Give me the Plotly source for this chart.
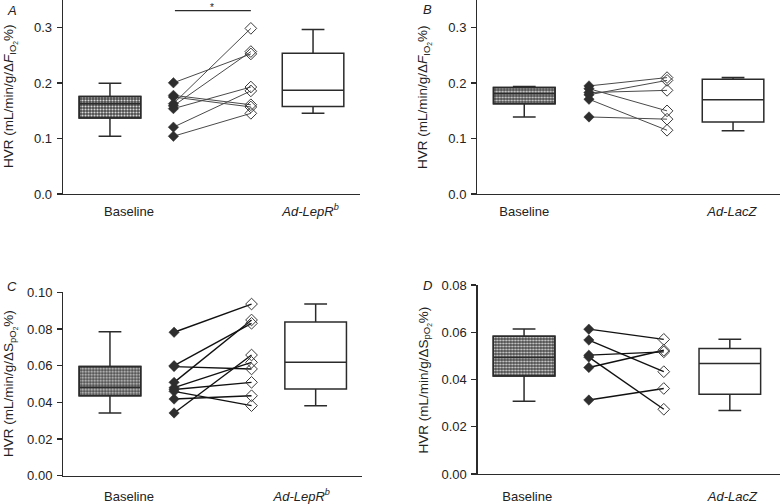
import plotly.graph_objects as go

# ---------------- data ----------------
# box stats: [lower whisker, q1, median, q3, upper whisker]
A_base = [0.2006, 0.178, 0.175, 0.163, 0.159, 0.154, 0.1206, 0.1042]
A_treat = [0.2527, 0.161, 0.157, 0.2988, 0.257, 0.193, 0.186, 0.1455]
A_box_base = [0.104, 0.137, 0.163, 0.176, 0.200]
A_box_treat = [0.1455, 0.158, 0.187, 0.254, 0.297]

B_base = [0.195, 0.190, 0.183, 0.179, 0.171, 0.139]
B_treat = [0.210, 0.150, 0.187, 0.205, 0.115, 0.135]
B_box_base = [0.139, 0.163, 0.181, 0.192, 0.194]
B_box_treat = [0.114, 0.130, 0.170, 0.207, 0.210]

C_base = [0.0782, 0.0600, 0.0595, 0.0509, 0.0480, 0.0470, 0.0460, 0.0418, 0.0342]
C_treat = [0.0936, 0.0831, 0.0582, 0.0849, 0.0618, 0.0509, 0.0382, 0.0436, 0.0658]
C_box_base = [0.0342, 0.0436, 0.0482, 0.0595, 0.0785]
C_box_treat = [0.0382, 0.0473, 0.0618, 0.0838, 0.0936]

D_base = [0.0613, 0.0567, 0.0503, 0.0495, 0.0451, 0.0313]
D_treat = [0.0570, 0.0433, 0.0517, 0.0274, 0.0524, 0.0362]
D_box_base = [0.0308, 0.0415, 0.0493, 0.0583, 0.0614]
D_box_treat = [0.0269, 0.0338, 0.0468, 0.0531, 0.0570]

group_labels_AC = ["Baseline", "<i>Ad-LepR</i><sup><i>b</i></sup>"]
group_labels_BD = ["Baseline", "<i>Ad-LacZ</i>"]
sig_A = 0.331
sig_C = 0.1013

title_F = "HVR (mL/min/g/Δ<i>F</i><sub>IO<sub>2</sub></sub>%)"
title_S = "HVR (mL/min/g/ΔS<sub>pO<sub>2</sub></sub>%)"

# ---------------- layout config ----------------
W, H = 780, 504
FONT = "Liberation Sans, Arial, sans-serif"
INK = "#2b2b2b"

panels = [
    dict(key="A", base=A_base, treat=A_treat, bb=A_box_base, bt=A_box_treat,
         pos=[0, 1.0, 2.22, 3.2], xr=[-0.74, 3.94], xdom=[63, 360], ydom=[194, 0],
         yr=[0, 0.35], dtick=0.1, fmt=".1f", labels=group_labels_AC, lab_pos=[0.3, 3.16],
         title=title_F, tx=10, letter=(5, 10), sig=sig_A, lw=1.0, lc="#4a4a4a", so=5),
    dict(key="B", base=B_base, treat=B_treat, bb=B_box_base, bt=B_box_treat,
         pos=[0, 1.02, 2.25, 3.29], xr=[-0.74, 4.03], xdom=[477.3, 780], ydom=[194, 0],
         yr=[0, 0.35], dtick=0.1, fmt=".1f", labels=group_labels_BD, lab_pos=[0.0, 3.27],
         title=title_F, tx=424, letter=(421, 9), sig=None, lw=1.0, lc="#4a4a4a", so=5),
    dict(key="C", base=C_base, treat=C_treat, bb=C_box_base, bt=C_box_treat,
         pos=[0, 1.01, 2.23, 3.24], xr=[-0.735, 3.97], xdom=[63.3, 362], ydom=[475.7, 292.3],
         yr=[0, 0.10], dtick=0.02, fmt=".2f", labels=group_labels_AC, lab_pos=[0.3, 3.02],
         title=title_S, tx=10, letter=(5, 286), sig=sig_C, lw=1.4, lc="#111111", so=8),
    dict(key="D", base=D_base, treat=D_treat, bb=D_box_base, bt=D_box_treat,
         pos=[0, 1.02, 2.2, 3.24], xr=[-0.73, 4.03], xdom=[477.7, 780], ydom=[474, 285],
         yr=[0, 0.08], dtick=0.02, fmt=".2f", labels=group_labels_BD, lab_pos=[0.05, 3.28],
         title=title_S, tx=424, letter=(421, 285), sig=None, lw=1.4, lc="#111111", so=10),
]

fig = go.Figure()
annotations = []
layout_axes = {}
BOXW = 0.97

for i, p in enumerate(panels):
    n = "" if i == 0 else str(i + 1)
    xa, ya = "x" + n, "y" + n
    pos = p["pos"]

    # patterned baseline box body
    fig.add_trace(go.Bar(
        x=[pos[0]], y=[p["bb"][3] - p["bb"][1]], base=[p["bb"][1]], width=[BOXW],
        xaxis=xa, yaxis=ya, showlegend=False, hoverinfo="skip",
        marker=dict(color="#4a4a4a", line=dict(color=INK, width=1.5),
                    pattern=dict(shape=".", fgcolor="#d8d8d8", bgcolor="#4a4a4a",
                                 size=3, solidity=0.4, fillmode="replace")),
    ))
    # box outlines, whiskers, medians
    for bx, stats, fill in [(pos[0], p["bb"], "rgba(0,0,0,0)"), (pos[3], p["bt"], "white")]:
        fig.add_trace(go.Box(
            x=[bx], lowerfence=[stats[0]], q1=[stats[1]], median=[stats[2]],
            q3=[stats[3]], upperfence=[stats[4]], width=BOXW, whiskerwidth=0.37,
            fillcolor=fill, line=dict(color=INK, width=1.5), boxpoints=False,
            xaxis=xa, yaxis=ya, showlegend=False, hoverinfo="skip",
        ))
    # paired lines
    for b, t in zip(p["base"], p["treat"]):
        fig.add_trace(go.Scatter(
            x=[pos[1], pos[2]], y=[b, t], mode="lines",
            line=dict(color=p["lc"], width=p["lw"]),
            xaxis=xa, yaxis=ya, showlegend=False, hoverinfo="skip",
        ))
    fig.add_trace(go.Scatter(
        x=[pos[1]] * len(p["base"]), y=p["base"], mode="markers",
        marker=dict(symbol="diamond", size=8, color="#2e2e2e", line=dict(color="#2e2e2e", width=0.5)),
        xaxis=xa, yaxis=ya, showlegend=False, hoverinfo="skip", cliponaxis=False,
    ))
    fig.add_trace(go.Scatter(
        x=[pos[2]] * len(p["treat"]), y=p["treat"], mode="markers",
        marker=dict(symbol="diamond-open", size=9, color="#3a3a3a", line=dict(width=1)),
        xaxis=xa, yaxis=ya, showlegend=False, hoverinfo="skip", cliponaxis=False,
    ))

    xd = [p["xdom"][0] / W, p["xdom"][1] / W]
    yd = [1 - p["ydom"][0] / H, 1 - p["ydom"][1] / H]
    layout_axes["xaxis" + n] = dict(
        domain=xd, range=p["xr"], anchor=ya, showline=True, linecolor=INK, linewidth=1.3,
        showgrid=False, zeroline=False, ticks="", ticklen=0, tickvals=p["lab_pos"],
        ticktext=p["labels"], automargin=False,
        tickfont=dict(family=FONT, size=13, color="#222"), ticklabelstandoff=p["so"], fixedrange=True,
    )
    layout_axes["yaxis" + n] = dict(
        domain=yd, range=p["yr"], anchor=xa, showline=True, linecolor=INK, linewidth=1.3,
        showgrid=False, zeroline=False, ticks="outside", ticklen=5, tickwidth=1.3, tickcolor=INK,
        dtick=p["dtick"], tick0=0, tickformat=p["fmt"], automargin=False,
        tickfont=dict(family=FONT, size=13, color="#222"), ticklabelstandoff=2, fixedrange=True,
    )

    # y title
    annotations.append(dict(
        x=p["tx"] / W, y=(yd[0] + yd[1]) / 2, xref="paper", yref="paper",
        text=p["title"], textangle=-90, showarrow=False, xanchor="center", yanchor="middle",
        font=dict(family=FONT, size=13.5, color="#222"),
    ))
    # panel letter
    annotations.append(dict(
        x=p["letter"][0] / W, y=1 - p["letter"][1] / H, xref="paper", yref="paper",
        text="<i>%s</i>" % p["key"], showarrow=False, xanchor="left", yanchor="middle",
        font=dict(family=FONT, size=13, color="#222"),
    ))
    # significance bar
    if p["sig"] is not None:
        annotations.append(dict(
            x=pos[2], y=p["sig"], xref=xa, yref=ya, axref=xa, ayref=ya,
            ax=pos[1], ay=p["sig"], text="", showarrow=True, arrowhead=0,
            arrowwidth=1.3, arrowcolor=INK, standoff=0, startstandoff=0,
        ))
        annotations.append(dict(
            x=(pos[1] + pos[2]) / 2, y=p["sig"], xref=xa, yref=ya, text="*",
            showarrow=False, yanchor="middle", yshift=3,
            font=dict(family=FONT, size=10, color="#222"),
        ))

fig.update_layout(
    width=W, height=H, margin=dict(l=0, r=0, t=0, b=0, autoexpand=False),
    paper_bgcolor="white", plot_bgcolor="white",
    barmode="overlay", boxmode="overlay", showlegend=False,
    annotations=annotations, **layout_axes,
)

fig.write_html(
    "out.html",
    config={"displayModeBar": False, "staticPlot": True},
    post_script="document.body.style.margin='0';document.body.style.overflow='hidden';",
)
